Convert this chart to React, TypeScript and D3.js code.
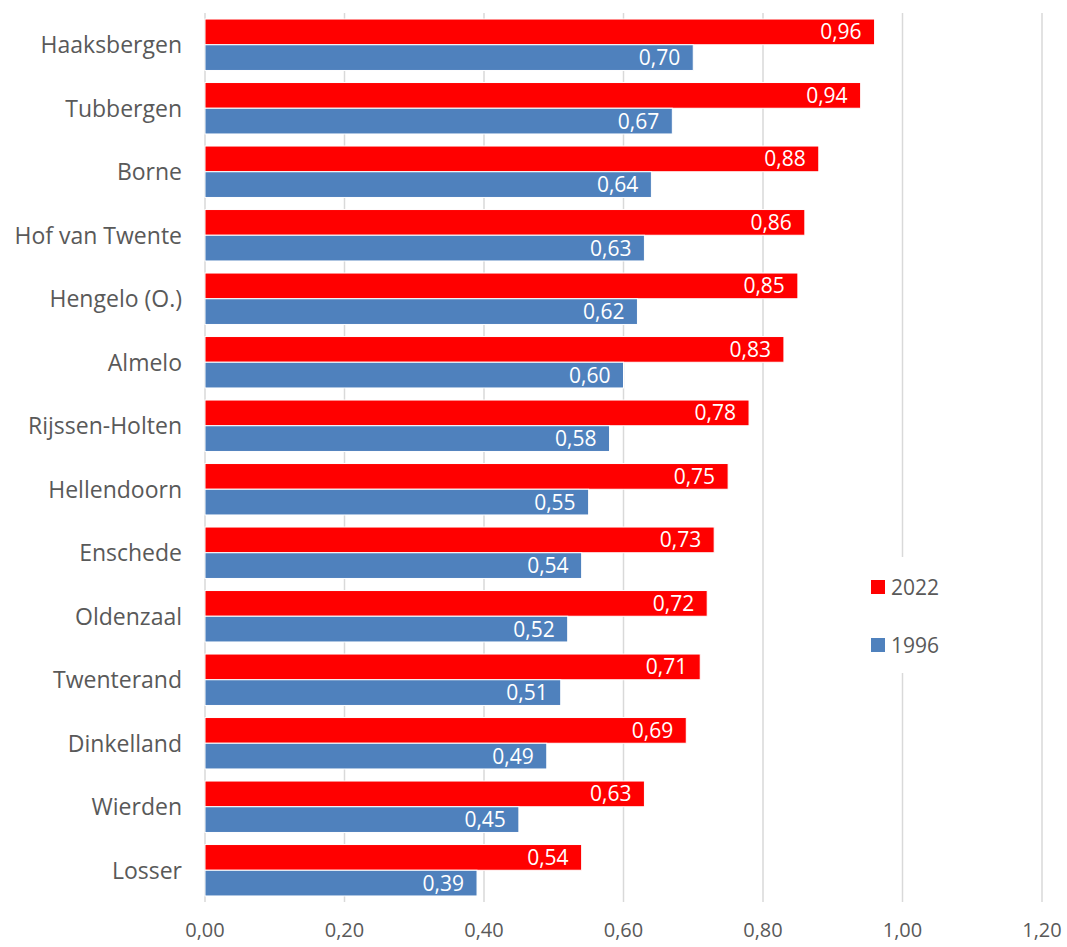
import React, { useEffect, useRef } from 'react';
import * as d3 from 'd3';

const categories = [
  'Haaksbergen', 'Tubbergen', 'Borne', 'Hof van Twente', 'Hengelo (O.)', 'Almelo',
  'Rijssen-Holten', 'Hellendoorn', 'Enschede', 'Oldenzaal', 'Twenterand',
  'Dinkelland', 'Wierden', 'Losser',
];
const values2022 = [0.96, 0.94, 0.88, 0.86, 0.85, 0.83, 0.78, 0.75, 0.73, 0.72, 0.71, 0.69, 0.63, 0.54];
const values1996 = [0.70, 0.67, 0.64, 0.63, 0.62, 0.60, 0.58, 0.55, 0.54, 0.52, 0.51, 0.49, 0.45, 0.39];
const seriesNames = ['2022', '1996'];
const seriesColors = ['#FF0000', '#4F81BD'];
const xTicks = [0, 0.2, 0.4, 0.6, 0.8, 1.0, 1.2];

const fmt = (v: number) => v.toFixed(2).replace('.', ',');

const App: React.FC = () => {
  const svgRef = useRef<SVGSVGElement>(null);

  useEffect(() => {
    if (!svgRef.current) return;
    const svg = d3.select(svgRef.current);
    svg.selectAll('*').remove();

    const width = 1067;
    const height = 947;
    const margin = { top: 13, right: 25, bottom: 45, left: 205 };
    const font = '"Open Sans", Lato, sans-serif';

    const x = d3.scaleLinear().domain([0, 1.2]).range([margin.left, width - margin.right]);
    const y = d3.scaleBand().domain(categories).range([margin.top, height - margin.bottom]).paddingInner(0.19).paddingOuter(0.095);
    const inner = d3.scaleBand().domain(seriesNames).range([0, y.bandwidth()]);

    // gridlines
    svg.append('g')
      .selectAll('line')
      .data(xTicks)
      .join('line')
      .attr('x1', d => x(d))
      .attr('x2', d => x(d))
      .attr('y1', margin.top)
      .attr('y2', height - margin.bottom)
      .attr('stroke', '#D9D9D9')
      .attr('stroke-width', 1.5);

    const data = categories.flatMap((c, i) => [
      { cat: c, series: '2022', value: values2022[i] },
      { cat: c, series: '1996', value: values1996[i] },
    ]);

    svg.append('g')
      .selectAll('rect')
      .data(data)
      .join('rect')
      .attr('x', x(0))
      .attr('y', d => (y(d.cat) as number) + (inner(d.series) as number))
      .attr('width', d => x(d.value) - x(0))
      .attr('height', inner.bandwidth())
      .attr('fill', d => seriesColors[seriesNames.indexOf(d.series)])
      .attr('stroke', '#fff')
      .attr('stroke-width', 1);

    svg.append('g')
      .selectAll('text')
      .data(data)
      .join('text')
      .attr('x', d => x(d.value) - 13)
      .attr('y', d => (y(d.cat) as number) + (inner(d.series) as number) + inner.bandwidth() / 2)
      .attr('dy', '0.36em')
      .attr('text-anchor', 'end')
      .attr('font-family', font)
      .attr('font-size', 21)
      .attr('fill', '#fff')
      .text(d => fmt(d.value));

    // category labels
    svg.append('g')
      .selectAll('text')
      .data(categories)
      .join('text')
      .attr('x', margin.left - 23)
      .attr('y', d => (y(d) as number) + y.bandwidth() / 2)
      .attr('dy', '0.36em')
      .attr('text-anchor', 'end')
      .attr('font-family', font)
      .attr('font-size', 23)
      .attr('fill', '#595959')
      .text(d => d);

    // x axis labels
    svg.append('g')
      .selectAll('text')
      .data(xTicks)
      .join('text')
      .attr('x', d => x(d))
      .attr('y', 930)
      .attr('dy', '0.36em')
      .attr('text-anchor', 'middle')
      .attr('font-family', font)
      .attr('font-size', 20)
      .attr('fill', '#595959')
      .text(d => fmt(d));

    // legend
    const legend = svg.append('g');
    legend.append('rect')
      .attr('x', 860).attr('y', 557).attr('width', 95).attr('height', 116)
      .attr('fill', '#fff');
    const items = legend.selectAll('g.item')
      .data(seriesNames)
      .join('g')
      .attr('class', 'item')
      .attr('transform', (d, i) => `translate(871,${587 + i * 58})`);
    items.append('rect')
      .attr('x', 0).attr('y', -7).attr('width', 14).attr('height', 14)
      .attr('fill', (d, i) => seriesColors[i]);
    items.append('text')
      .attr('x', 20)
      .attr('dy', '0.36em')
      .attr('font-family', font)
      .attr('font-size', 21)
      .attr('fill', '#595959')
      .text(d => d);
  }, []);

  return (
    <svg ref={svgRef} width={1067} height={947}
      style={{ position: 'absolute', left: 0, top: 0, background: '#fff' }} />
  );
};

export default App;
